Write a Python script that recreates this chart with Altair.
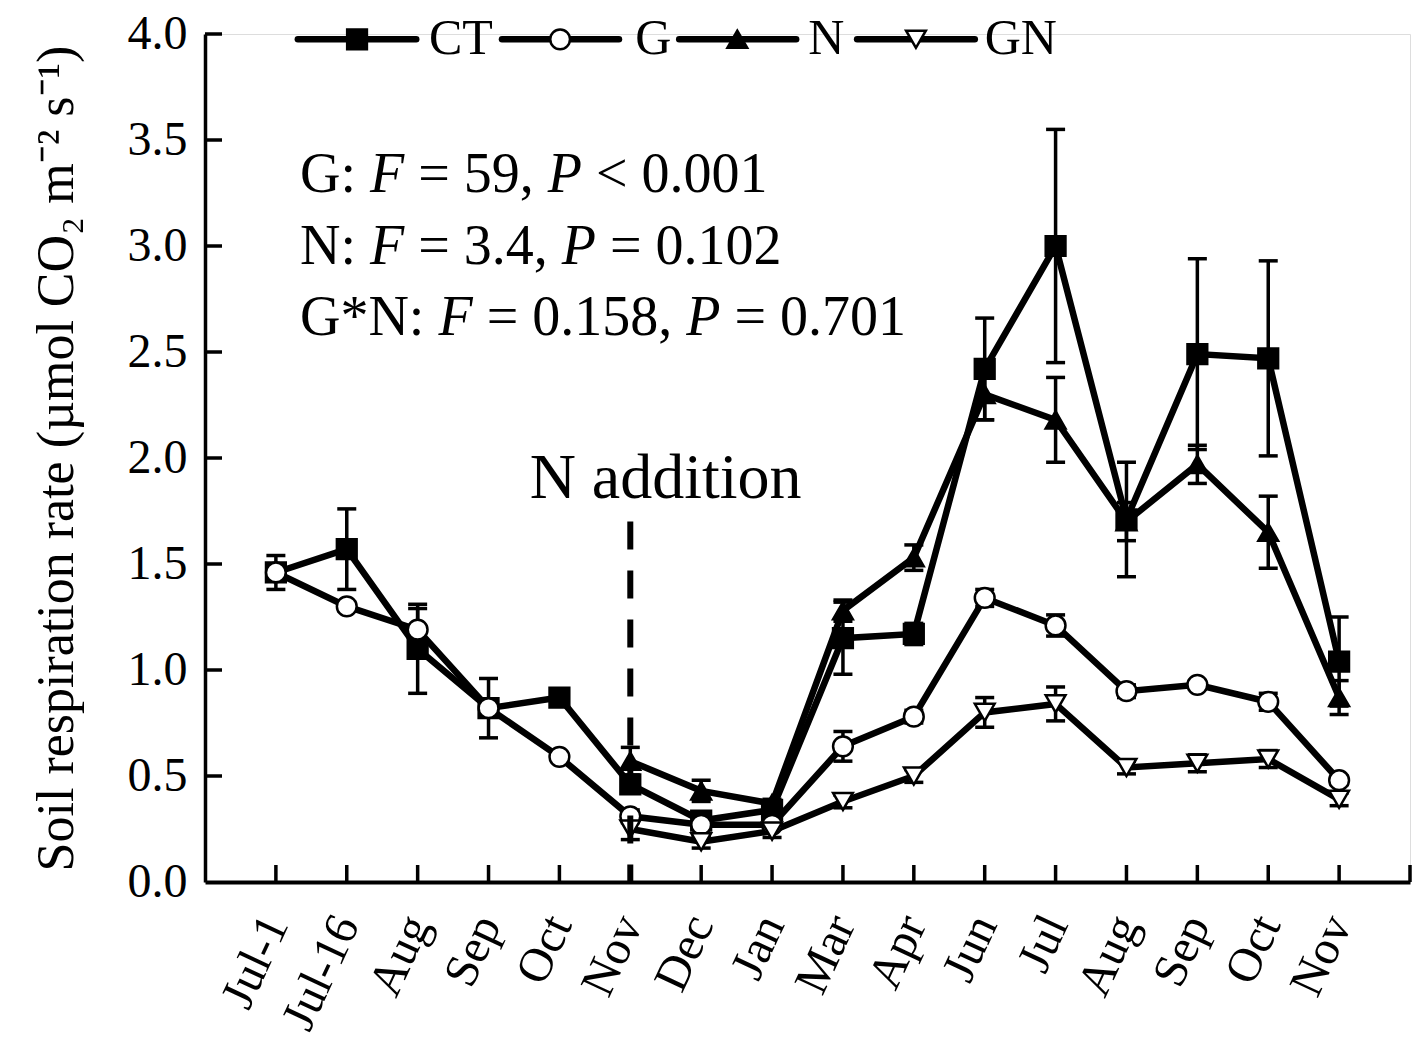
import altair as alt
import pandas as pd

# ---------------- data ----------------
months = ["Jul-1", "Jul-16", "Aug", "Sep", "Oct", "Nov", "Dec", "Jan",
          "Mar", "Apr", "Jun", "Jul", "Aug", "Sep", "Oct", "Nov"]
series_names = ["CT", "G", "N", "GN"]

ct = [1.46, 1.57, 1.10, 0.82, 0.87, 0.46, 0.29, 0.34, 1.15, 1.17, 2.42, 3.00, 1.71, 2.49, 2.47, 1.04]
ct_se = [0.08, 0.19, 0.21, 0.14, 0.02, 0.04, 0.03, 0.03, 0.17, 0.05, 0.24, 0.55, 0.27, 0.45, 0.46, 0.21]
g = [1.46, 1.30, 1.19, 0.82, 0.59, 0.31, 0.27, 0.27, 0.64, 0.78, 1.34, 1.21, 0.90, 0.93, 0.85, 0.48]
g_se = [0.02, 0.02, 0.10, 0.02, 0.02, 0.03, 0.05, 0.02, 0.07, 0.03, 0.04, 0.05, 0.03, 0.02, 0.04, 0.02]
n = [None] * 5 + [0.57, 0.43, 0.37, 1.28, 1.53, 2.30, 2.18, 1.70, 1.97, 1.65, 0.87]
n_se = [None] * 5 + [0.065, 0.05, 0.02, 0.05, 0.06, 0.12, 0.20, 0.09, 0.09, 0.17, 0.08]
gn = [None] * 5 + [0.25, 0.19, 0.24, 0.38, 0.50, 0.80, 0.84, 0.54, 0.56, 0.58, 0.39]
gn_se = [None] * 5 + [0.05, 0.03, 0.03, 0.03, 0.03, 0.07, 0.08, 0.03, 0.04, 0.04, 0.03]

n_addition_idx = 5          # N addition at "Nov"
n_addition_top = 1.70

y_ticks = [0.0, 0.5, 1.0, 1.5, 2.0, 2.5, 3.0, 3.5, 4.0]

stat_lines = [
    [("G: ", False), ("F", True), (" = 59, ", False), ("P", True), (" < 0.001", False)],
    [("N: ", False), ("F", True), (" = 3.4, ", False), ("P", True), (" = 0.102", False)],
    [("G*N: ", False), ("F", True), (" = 0.158, ", False), ("P", True), (" = 0.701", False)],
]

# ---------------- build tables ----------------
rows = []
for name, vals, ses in [("CT", ct, ct_se), ("G", g, g_se), ("N", n, n_se), ("GN", gn, gn_se)]:
    for i, (v, s) in enumerate(zip(vals, ses)):
        if v is None:
            continue
        rows.append({"series": name, "idx": i, "value": v, "lo": v - s, "hi": v + s})
df = pd.DataFrame(rows)

FONT = "Liberation Serif"
W, H = 1205, 848
xs = alt.Scale(domain=[-1, 16], nice=False, zero=False)
ys = alt.Scale(domain=[0, 4], nice=False, zero=False)

label_expr = "[" + ",".join("'%s'" % m for m in months) + "][datum.value]"

x_axis = alt.Axis(values=list(range(len(months))), labelExpr=label_expr, title=None,
                  ticks=False, grid=False, labelAngle=-65, labelFontSize=48, labelFont=FONT,
                  labelColor="black", labelPadding=36, labelOverlap=False, labelFlush=False,
                  domainWidth=4, domainColor="black")
y_axis = alt.Axis(values=y_ticks, format=".1f", ticks=False, grid=False,
                  labelFontSize=48, labelFont=FONT, labelColor="black", labelPadding=18,
                  domainWidth=3.5, domainColor="black",
                  title="Soil respiration rate (µmol CO₂ m⁻² s⁻¹)",
                  titleFont=FONT, titleFontSize=52, titleFontWeight="normal",
                  titleColor="black", titlePadding=44)

X = alt.X("idx:Q", scale=xs, axis=x_axis)
Y = alt.Y("value:Q", scale=ys, axis=y_axis)

shape_scale = alt.Scale(domain=series_names, range=["square", "circle", "triangle-up", "triangle-down"])
fill_scale = alt.Scale(domain=series_names, range=["black", "white", "black", "white"])

MSIZE = 390

base = alt.Chart(df)

err = base.mark_rule(color="black", strokeWidth=3.5, opacity=1).encode(
    x=alt.X("idx:Q", scale=xs), y=alt.Y("lo:Q", scale=ys), y2="hi:Q")
cap_hi = base.mark_tick(color="black", orient="horizontal", size=19, thickness=3.5, opacity=1).encode(
    x=alt.X("idx:Q", scale=xs), y=alt.Y("hi:Q", scale=ys))
cap_lo = base.mark_tick(color="black", orient="horizontal", size=19, thickness=3.5, opacity=1).encode(
    x=alt.X("idx:Q", scale=xs), y=alt.Y("lo:Q", scale=ys))

lines = base.mark_line(color="black", strokeWidth=6.5).encode(
    x=X, y=Y, detail="series:N", order="idx:Q")

points = base.mark_point(filled=True, stroke="black", strokeWidth=2.5, opacity=1, size=MSIZE).encode(
    x=alt.X("idx:Q", scale=xs), y=alt.Y("value:Q", scale=ys),
    shape=alt.Shape("series:N", scale=shape_scale, legend=None),
    fill=alt.Fill("series:N", scale=fill_scale, legend=None))

# inward axis ticks
xt = alt.Chart(pd.DataFrame({"idx": list(range(17)), "v": [0.0] * 17})).mark_tick(
    color="black", orient="vertical", size=17, thickness=3.5, yOffset=-8.5, opacity=1).encode(
    x=alt.X("idx:Q", scale=xs), y=alt.Y("v:Q", scale=ys))
yt = alt.Chart(pd.DataFrame({"idx": [-1] * 8, "v": y_ticks[1:]})).mark_tick(
    color="black", orient="horizontal", size=17, thickness=3.5, xOffset=8.5, opacity=1).encode(
    x=alt.X("idx:Q", scale=xs), y=alt.Y("v:Q", scale=ys))

# N addition marker
nadd = alt.Chart(pd.DataFrame({"idx": [n_addition_idx], "y0": [0.0], "y1": [n_addition_top]})).mark_rule(
    color="black", strokeWidth=6, strokeDash=[28, 21]).encode(
    x=alt.X("idx:Q", scale=xs), y=alt.Y("y1:Q", scale=ys), y2="y0:Q")
nadd_text = alt.Chart(pd.DataFrame({"idx": [3.58], "v": [1.81], "t": ["N addition"]})).mark_text(
    font=FONT, fontSize=64, align="left", baseline="alphabetic", color="black").encode(
    x=alt.X("idx:Q", scale=xs), y=alt.Y("v:Q", scale=ys), text="t:N")

# custom legend (line + symbol + label)
leg = pd.DataFrame({
    "series": series_names,
    "x0": [0.31, 3.19, 5.69, 8.20],
    "x1": [1.98, 4.84, 7.34, 9.86],
    "xm": [1.145, 4.01, 6.51, 9.03],
    "xt": [2.16, 5.07, 7.51, 10.0],
    "v": [3.975] * 4,
})
leg_lines = alt.Chart(leg).mark_rule(color="black", strokeWidth=6.5, strokeCap="round").encode(
    x=alt.X("x0:Q", scale=xs), x2="x1:Q", y=alt.Y("v:Q", scale=ys))
leg_pts = alt.Chart(leg).mark_point(filled=True, stroke="black", strokeWidth=2.5, opacity=1, size=MSIZE).encode(
    x=alt.X("xm:Q", scale=xs), y=alt.Y("v:Q", scale=ys),
    shape=alt.Shape("series:N", scale=shape_scale, legend=None),
    fill=alt.Fill("series:N", scale=fill_scale, legend=None))
leg_txt = alt.Chart(leg).mark_text(font=FONT, fontSize=50, align="left", baseline="middle",
                                   color="black").encode(
    x=alt.X("xt:Q", scale=xs), y=alt.Y("v:Q", scale=ys), text="series:N")

# statistics text with italic F and P (Times metrics for offsets)
reg_w = {" ": 250, "G": 722, "N": 722, ":": 278, "=": 564, "<": 564, ",": 250, ".": 250, "*": 500}
ital_w = {"F": 611, "P": 611}
STAT_FS = 56
stat_x = 0.34
stat_baselines = [3.255, 2.915, 2.58]
stat_layers = []
for line, yb in zip(stat_lines, stat_baselines):
    off = 0.0
    for text, italic in line:
        table = ital_w if italic else reg_w
        lead = len(text) - len(text.lstrip(" "))
        start = off + lead * 250 * STAT_FS / 1000
        w = sum(table.get(c, 500) for c in text) * STAT_FS / 1000
        stat_layers.append(
            alt.Chart(pd.DataFrame({"idx": [stat_x], "v": [yb], "t": [text.strip()]})).mark_text(
                font=FONT, fontSize=STAT_FS, align="left", baseline="alphabetic", color="black",
                fontStyle="italic" if italic else "normal", dx=start).encode(
                x=alt.X("idx:Q", scale=xs), y=alt.Y("v:Q", scale=ys), text="t:N"))
        off += w

chart = alt.layer(lines, err, cap_hi, cap_lo, points, xt, yt, nadd, nadd_text,
                  leg_lines, leg_pts, leg_txt, *stat_layers).properties(
    width=W, height=H,
    padding={"left": 197, "top": 26, "right": 2, "bottom": 156},
    autosize=alt.AutoSizeParams(type="none"),
).configure_view(stroke=None).configure(background="white")

chart.save("out.html", embed_options={"renderer": "svg", "actions": False})
